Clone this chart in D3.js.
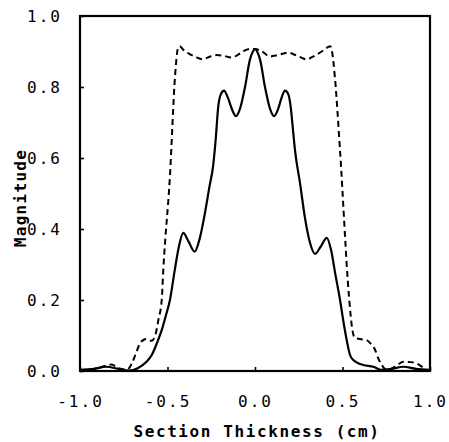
<!DOCTYPE html>
<html>
<head>
<meta charset="utf-8">
<script src="https://cdn.jsdelivr.net/npm/d3@7"></script>
<style>
  html, body { margin: 0; padding: 0; background: #fff; }
  svg { display: block; }
  text { font-family: "DejaVu Sans Mono", monospace; fill: #000; }
</style>
</head>
<body>
<svg id="chart" width="449" height="442"></svg>
<script>
// ---- data ----
const xTicks = [-1.0, -0.5, 0.0, 0.5, 1.0];
const yTicks = [0.0, 0.2, 0.4, 0.6, 0.8, 1.0];
const xTickLabels = ["-1.0", "-0.5", "0.0", "0.5", "1.0"];
const yTickLabels = ["0.0", "0.2", "0.4", "0.6", "0.8", "1.0"];

const solidX = [-1.00, -0.92, -0.85, -0.78, -0.72, -0.67, -0.62, -0.59, -0.56, -0.53, -0.51, -0.486, -0.46, -0.435, -0.41, -0.38, -0.345, -0.315, -0.286, -0.26, -0.24, -0.225, -0.21, -0.195, -0.177, -0.155, -0.13, -0.109, -0.085, -0.057, -0.03, -0.012, 0.0,
  0.012, 0.03, 0.057, 0.085, 0.109, 0.13, 0.152, 0.171, 0.19, 0.205, 0.215, 0.229, 0.257, 0.286, 0.315, 0.343, 0.375, 0.41, 0.435, 0.46, 0.486, 0.505, 0.524, 0.543, 0.562, 0.59, 0.619, 0.676, 0.724, 0.78, 0.848, 0.92, 1.00];
const solidY = [0.003, 0.006, 0.012, 0.006, 0.001, 0.008, 0.026, 0.045, 0.079, 0.12, 0.155, 0.20, 0.28, 0.35, 0.389, 0.365, 0.336, 0.375, 0.445, 0.52, 0.575, 0.65, 0.745, 0.78, 0.79, 0.77, 0.735, 0.718, 0.74, 0.80, 0.875, 0.90, 0.907,
  0.90, 0.875, 0.80, 0.74, 0.718, 0.735, 0.77, 0.79, 0.78, 0.74, 0.69, 0.62, 0.53, 0.43, 0.36, 0.33, 0.35, 0.375, 0.34, 0.27, 0.20, 0.14, 0.087, 0.045, 0.031, 0.022, 0.017, 0.012, 0.003, 0.006, 0.012, 0.006, 0.003];

const dashX = [-1.00, -0.92, -0.85, -0.82, -0.78, -0.73, -0.705, -0.68, -0.657, -0.635, -0.619, -0.59, -0.57, -0.552, -0.533, -0.524, -0.486, -0.457, -0.44, -0.43, -0.41, -0.38, -0.34, -0.30, -0.26, -0.22, -0.18, -0.133, -0.10, -0.069, -0.03, 0.0,
  0.04, 0.086, 0.13, 0.189, 0.24, 0.295, 0.34, 0.381, 0.415, 0.43, 0.44, 0.457, 0.486, 0.537, 0.555, 0.571, 0.60, 0.638, 0.665, 0.686, 0.705, 0.724, 0.752, 0.80, 0.848, 0.89, 0.924, 0.96, 0.98, 1.00];
const dashY = [0.003, 0.006, 0.015, 0.018, 0.008, 0.004, 0.02, 0.05, 0.078, 0.088, 0.09, 0.085, 0.10, 0.144, 0.20, 0.285, 0.55, 0.83, 0.91, 0.915, 0.905, 0.895, 0.885, 0.878, 0.885, 0.89, 0.888, 0.883, 0.89, 0.90, 0.907, 0.907,
  0.90, 0.886, 0.89, 0.897, 0.888, 0.878, 0.888, 0.90, 0.912, 0.915, 0.90, 0.825, 0.62, 0.21, 0.12, 0.093, 0.09, 0.087, 0.075, 0.06, 0.035, 0.017, 0.003, 0.012, 0.026, 0.025, 0.021, 0.01, 0.003, 0.003];

// ---- layout ----
const svg = d3.select("#chart");
const mLeft = 80, mRight = 430, mTop = 16, mBottom = 371;

const x = d3.scaleLinear().domain([-1, 1]).range([mLeft, mRight]);
const y = d3.scaleLinear().domain([0, 1]).range([mBottom, mTop]);

const line = d3.line().x(d => x(d[0])).y(d => y(d[1])).curve(d3.curveMonotoneX);

const solidData = solidX.map((v, i) => [v, solidY[i]]);
const dashData = dashX.map((v, i) => [v, dashY[i]]);

const g = svg.append("g");
g.append("path").datum(dashData).attr("d", line)
  .attr("fill", "none").attr("stroke", "#000").attr("stroke-width", 2)
  .attr("stroke-dasharray", "6,4");
g.append("path").datum(solidData).attr("d", line)
  .attr("fill", "none").attr("stroke", "#000").attr("stroke-width", 2.2);

// axes: ticks inward
const xAxis = d3.axisBottom(x).tickValues(xTicks).tickSize(-4)
  .tickFormat((d, i) => xTickLabels[i]).tickPadding(20);
const yAxis = d3.axisLeft(y).tickValues(yTicks).tickSize(-4)
  .tickFormat((d, i) => yTickLabels[i]).tickPadding(18);

const gx = svg.append("g").attr("transform", `translate(0,${mBottom})`).call(xAxis);
const gy = svg.append("g").attr("transform", `translate(${mLeft},0)`).call(yAxis);
[gx, gy].forEach(a => {
  a.select(".domain").remove();
  a.selectAll(".tick line").attr("stroke", "#000").attr("stroke-width", 1.6);
  a.selectAll(".tick text").attr("font-family", "DejaVu Sans Mono").attr("font-size", 16)
    .attr("letter-spacing", "2px").attr("fill", "#000");
});
gx.selectAll(".tick text").attr("dy", null).attr("y", 36);
gy.selectAll(".tick text").attr("dy", "0.35em");

// frame
svg.append("rect").attr("x", mLeft).attr("y", mTop).attr("width", mRight - mLeft).attr("height", mBottom - mTop)
  .attr("fill", "none").attr("stroke", "#000").attr("stroke-width", 2.2);

// axis titles
svg.append("text").attr("x", (mLeft + mRight) / 2 + 2).attr("y", 437)
  .attr("text-anchor", "middle").attr("font-size", 16).attr("font-weight", "bold")
  .attr("letter-spacing", "1.6px")
  .text("Section Thickness (cm)");
svg.append("text").attr("transform", "translate(25.5,198) rotate(-90)")
  .attr("text-anchor", "middle").attr("font-size", 16).attr("font-weight", "bold")
  .attr("letter-spacing", "1.3px")
  .text("Magnitude");
</script>
</body>
</html>
